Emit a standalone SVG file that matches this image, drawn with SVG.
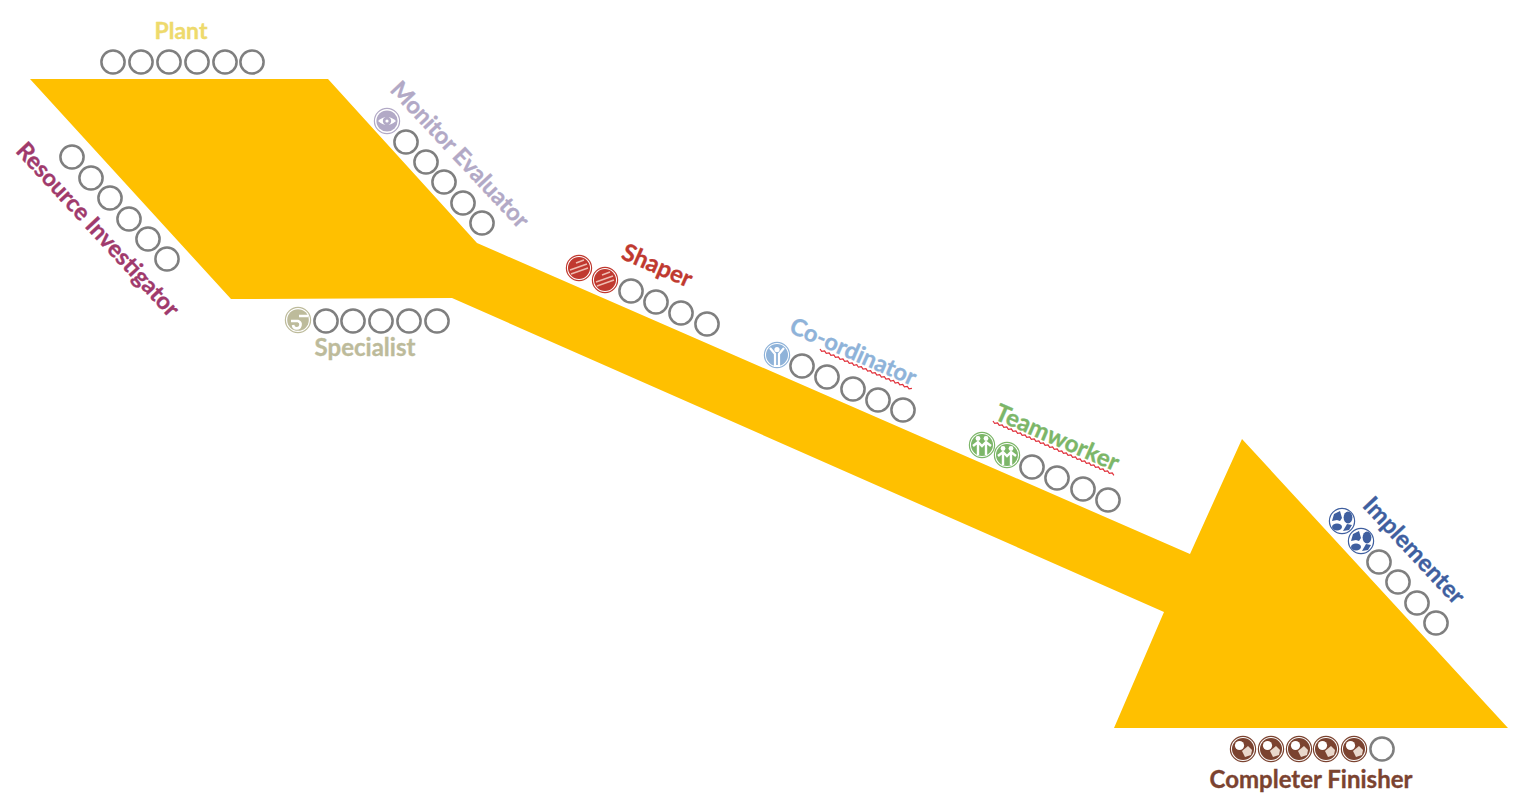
<svg xmlns="http://www.w3.org/2000/svg" width="1526" height="806" viewBox="0 0 1526 806">
<style>
text{font-family:"Lato","Liberation Sans",sans-serif;font-weight:700;font-size:24px;text-anchor:middle;fill:currentColor;stroke:currentColor;stroke-width:.35}
.e{fill:none;stroke:#7f7f7f;stroke-width:2.5}
.squig{fill:none;stroke:#e0303a;stroke-width:1.2}
</style>
<defs>
<circle id="c" r="11.6" class="e"/>
<g id="ime"><circle r="12.6" fill="#fff" stroke="#b2a9c6" stroke-width="1.2"/><circle r="10.6" fill="#b2a9c6"/><path d="M-9 0Q0-8 9 0Q0 8-9 0Z" fill="#fff"/><circle r="4.2" fill="#b2a9c6"/><circle r="1.6" fill="#fff"/></g>
<g id="isp"><circle r="12.6" fill="#fff" stroke="#bdbb9b" stroke-width="1.2"/><circle r="10.8" fill="#bdbb9b"/><path d="M-7 1h7a3.8 3.8 0 1 1-5 4M1-4h9" fill="none" stroke="#fff" stroke-width="2.6"/></g>
<g id="ish"><circle r="12.6" fill="#fff" stroke="#c0392f" stroke-width="1.2"/><circle r="11" fill="#c0392f"/><path d="M-9 2L8-4M-8 6L9 0M-3-5L5-8" fill="none" stroke="#eebcb0" stroke-width="1.5"/></g>
<g id="ico"><circle r="12.6" fill="#fff" stroke="#8fb3d9" stroke-width="1.2"/><circle r="11" fill="#8fb3d9"/><circle cy="-5.5" r="2.6" fill="#fff"/><path d="M-7-7L-2-1V11H2V-1L7-7" fill="none" stroke="#fff" stroke-width="2.2"/></g>
<g id="ite"><circle r="12.6" fill="#fff" stroke="#7cb668" stroke-width="1.2"/><circle r="11" fill="#7cb668"/><circle cx="-4" cy="-6.5" r="2.4" fill="#fff"/><circle cx="4" cy="-6.5" r="2.4" fill="#fff"/><path d="M-9 1L-4-3L0 1L4-3L9 1M-4-3V10M4-3V10" fill="none" stroke="#fff" stroke-width="2.4"/></g>
<g id="iim"><circle r="12.6" fill="#fff" stroke="#3f5f9f" stroke-width="1.2"/><path d="M-10 0L-8-7L-2-10L0-3L-2 0L-5-1Z" fill="#3f5f9f"/><ellipse cx="6" cy="-3.5" rx="4.4" ry="6" fill="#3f5f9f"/><ellipse cx="-5" cy="6" rx="5" ry="3.4" fill="#3f5f9f"/><path d="M1 10L5 3L10 4L7 9Z" fill="#3f5f9f"/></g>
<g id="icf"><circle r="12.6" fill="#fff" stroke="#7b4330" stroke-width="1.2"/><circle r="11" fill="#7b4330"/><circle cx="-3.5" cy="-3.5" r="4.6" fill="#fff"/><path d="M-1 2L5-3L9 1L8 6L2 8Z" fill="#e9d8cc"/></g>
</defs>

<g id="connectors">
<polygon id="arrow" fill="#ffc000" points="30,79 328,79 477,243 1190,554 1242,439 1508,728 1114,728 1164,612 452,298 231,299"/>
</g>

<g id="plant" color="#eeda6c">
<text x="181" y="39" style="font-size:23px">Plant</text>
<use href="#c" x="113" y="62"/><use href="#c" x="141" y="62"/><use href="#c" x="169" y="62"/><use href="#c" x="197" y="62"/><use href="#c" x="225" y="62"/><use href="#c" x="252" y="62"/>
</g>

<g id="resource-investigator" color="#a03a6c">
<text transform="translate(92,235) rotate(47.2)" style="font-size:23.6px">Resource Investigator</text>
<use href="#c" x="72" y="157"/><use href="#c" x="91" y="178"/><use href="#c" x="110" y="198"/><use href="#c" x="129" y="219"/><use href="#c" x="148" y="239"/><use href="#c" x="167" y="259"/>
</g>

<g id="monitor-evaluator" color="#b2a9c6">
<text transform="translate(454,160) rotate(47)" style="font-size:23.6px">Monitor Evaluator</text>
<use href="#ime" x="387" y="121"/>
<use href="#c" x="406" y="142"/><use href="#c" x="426" y="162"/><use href="#c" x="444" y="182"/><use href="#c" x="463" y="203"/><use href="#c" x="482" y="223"/>
</g>

<g id="specialist" color="#bdbb9b">
<text x="365" y="356">Specialist</text>
<use href="#isp" x="298" y="320"/>
<use href="#c" x="326" y="321"/><use href="#c" x="353" y="321"/><use href="#c" x="381" y="321"/><use href="#c" x="409" y="321"/><use href="#c" x="437" y="321"/>
</g>

<g id="shaper" color="#c0392f">
<text transform="translate(654,273) rotate(23.5)">Shaper</text>
<use href="#ish" x="579" y="268"/><use href="#ish" x="605" y="280"/>
<use href="#c" x="631" y="291"/><use href="#c" x="656" y="302"/><use href="#c" x="681" y="313"/><use href="#c" x="707" y="324"/>
</g>

<g id="co-ordinator" color="#8fb3d9">
<text transform="translate(850,359) rotate(23.5)" style="font-size:23.6px">Co-ordinator</text>
<path class="squig" transform="translate(820,349) rotate(23.2)" d="M0 0l2.5 1.6 2.5-1.6 2.5 1.6 2.5-1.6 2.5 1.6 2.5-1.6 2.5 1.6 2.5-1.6 2.5 1.6 2.5-1.6 2.5 1.6 2.5-1.6 2.5 1.6 2.5-1.6 2.5 1.6 2.5-1.6 2.5 1.6 2.5-1.6 2.5 1.6 2.5-1.6 2.5 1.6 2.5-1.6 2.5 1.6 2.5-1.6 2.5 1.6 2.5-1.6 2.5 1.6 2.5-1.6 2.5 1.6 2.5-1.6 2.5 1.6 2.5-1.6 2.5 1.6 2.5-1.6 2.5 1.6 2.5-1.6 2.5 1.6 2.5-1.6 2.5 1.6 2.5-1.6"/>
<use href="#ico" x="777" y="355"/>
<use href="#c" x="802" y="366"/><use href="#c" x="827" y="377"/><use href="#c" x="853" y="389"/><use href="#c" x="878" y="400"/><use href="#c" x="903" y="410"/>
</g>

<g id="teamworker" color="#7cb668">
<text transform="translate(1054,445) rotate(23.5)">Teamworker</text>
<path class="squig" transform="translate(993,421) rotate(23.5)" d="M0 0l2.5 1.6 2.5-1.6 2.5 1.6 2.5-1.6 2.5 1.6 2.5-1.6 2.5 1.6 2.5-1.6 2.5 1.6 2.5-1.6 2.5 1.6 2.5-1.6 2.5 1.6 2.5-1.6 2.5 1.6 2.5-1.6 2.5 1.6 2.5-1.6 2.5 1.6 2.5-1.6 2.5 1.6 2.5-1.6 2.5 1.6 2.5-1.6 2.5 1.6 2.5-1.6 2.5 1.6 2.5-1.6 2.5 1.6 2.5-1.6 2.5 1.6 2.5-1.6 2.5 1.6 2.5-1.6 2.5 1.6 2.5-1.6 2.5 1.6 2.5-1.6 2.5 1.6 2.5-1.6 2.5 1.6 2.5-1.6 2.5 1.6 2.5-1.6 2.5 1.6 2.5-1.6 2.5 1.6 2.5-1.6 2.5 1.6 2.5-1.6 2.5 1.6 2.5-1.6 2.5 1.6"/>
<use href="#ite" x="982" y="445"/><use href="#ite" x="1007" y="455"/>
<use href="#c" x="1032" y="467"/><use href="#c" x="1057" y="478"/><use href="#c" x="1083" y="489"/><use href="#c" x="1108" y="500"/>
</g>

<g id="implementer" color="#3f5f9f">
<text transform="translate(1408,556) rotate(47)">Implementer</text>
<use href="#iim" x="1342" y="521"/><use href="#iim" x="1361" y="541"/>
<use href="#c" x="1379" y="562"/><use href="#c" x="1398" y="582"/><use href="#c" x="1417" y="603"/><use href="#c" x="1436" y="623"/>
</g>

<g id="completer-finisher" color="#7b4330">
<text x="1311" y="788">Completer Finisher</text>
<use href="#icf" x="1243" y="749"/><use href="#icf" x="1271" y="749"/><use href="#icf" x="1299" y="749"/><use href="#icf" x="1326" y="749"/><use href="#icf" x="1354" y="749"/>
<use href="#c" x="1382" y="749"/>
</g>
</svg>
